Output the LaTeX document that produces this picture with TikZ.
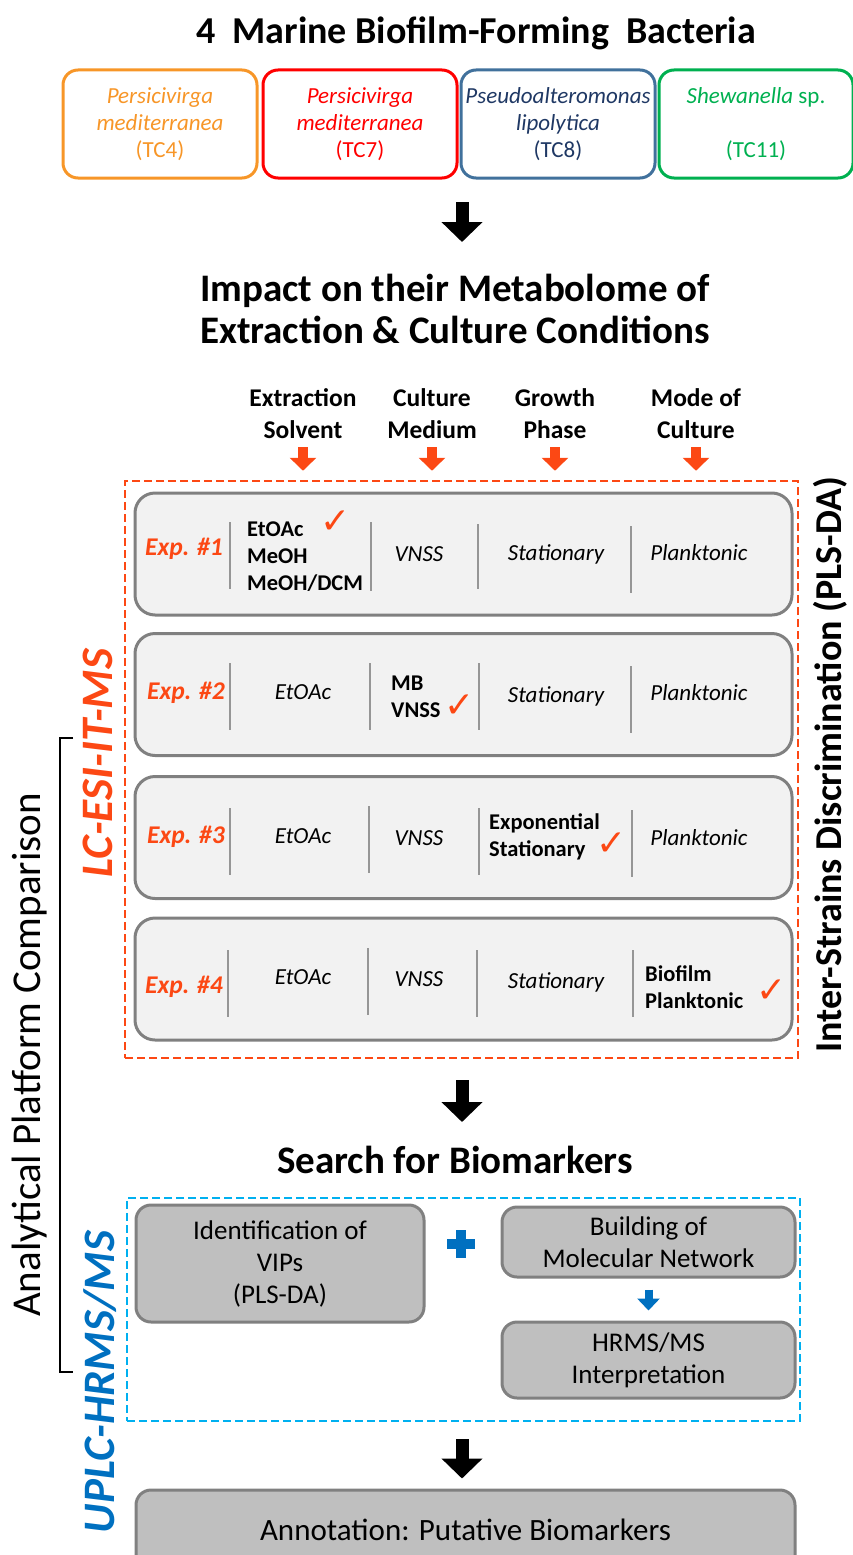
\documentclass[tikz,border=0pt]{standalone}
\usepackage{fontspec}
\setmainfont{Carlito}
\newfontfamily\checkfont{DejaVu Sans}
\usetikzlibrary{arrows.meta, positioning}
\definecolor{strainOrange}{RGB}{247,150,40}
\definecolor{strainRed}{RGB}{255,0,0}
\definecolor{strainBlueLine}{RGB}{65,113,156}
\definecolor{strainBlueText}{RGB}{31,56,100}
\definecolor{strainGreen}{RGB}{0,176,80}
\definecolor{lcOrange}{RGB}{252,72,20}
\definecolor{hrmsBlue}{RGB}{0,112,192}
\definecolor{hrmsCyan}{RGB}{0,176,240}
\definecolor{expFill}{RGB}{242,242,242}
\definecolor{boxFill}{RGB}{191,191,191}
\definecolor{boxLine}{RGB}{128,128,128}
\definecolor{sepLine}{RGB}{150,150,150}
\newcommand{\fsz}[2]{\fontsize{#1}{#2}\selectfont}
\tikzset{
  mainTitle/.style={font=\bfseries\fsz{38}{44}, inner sep=0pt, align=center},
  sectionTitle/.style={font=\bfseries\fsz{39}{42}, inner sep=0pt, align=center},
  factorHead/.style={font=\bfseries\fsz{25.5}{32}, inner sep=0pt, align=center},
  strainBox/.style={
    rounded corners=15pt,
    line width=3pt,
    minimum width=194pt,
    minimum height=108pt,
    align=center,
    inner sep=0pt,
    font=\fsz{23}{27}
  },
  expBox/.style={rounded corners=20pt, draw=boxLine, line width=3pt, fill=expFill,
    minimum width=657pt, minimum height=122pt},
  greyBox/.style={rounded corners=15pt, draw=boxLine, line width=3pt, fill=boxFill,
    align=center, inner sep=0pt, font=\fsz{27}{32}},
  expLabel/.style={font=\bfseries\itshape\fsz{25.5}{30}, text=lcOrange, inner sep=0pt},
  condText/.style={font=\itshape\fsz{23}{27}, inner sep=0pt},
  varList/.style={font=\bfseries\fsz{22.5}{27}, align=left, inner sep=0pt, anchor=west},
  checkMark/.style={font=\checkfont\fsz{36}{36}, text=lcOrange, inner sep=0pt},
  sideTitle/.style={font=\bfseries\fsz{38}{44}, inner sep=0pt, rotate=90},
  platformTitle/.style={font=\fsz{41}{48}, inner sep=0pt, rotate=90},
  methodTitle/.style={font=\bfseries\itshape\fsz{45}{52}, inner sep=0pt, rotate=90},
  colSep/.style={draw=sepLine, line width=1.5pt},
  frameBox/.style={dashed, line width=2.5pt, dash pattern=on 8pt off 4pt},
  bigArrow/.style={line width=13pt, -{Triangle[length=20pt, width=40pt]}},
  factorArrow/.style={line width=10pt, draw=lcOrange, -{Triangle[length=13pt, width=26pt]}},
  netArrow/.style={line width=8pt, draw=hrmsBlue, -{Triangle[length=12pt, width=22pt]}},
  bracketLine/.style={line width=2.5pt}
}

\begin{document}
\begin{tikzpicture}[x=1pt, y=-1pt]
  \useasboundingbox (0,0) rectangle (853,1555);

  \node[mainTitle] (title) at (476,33) {4\ \ Marine Biofilm-Forming\ \ Bacteria};

  \node[strainBox, draw=strainOrange, text=strainOrange] (tc4) at (160,124) {\textit{Persicivirga}\\\textit{mediterranea}\\(TC4)};
  \node[strainBox, draw=strainRed, text=strainRed] (tc7) at (360,124) {\textit{Persicivirga}\\\textit{mediterranea}\\(TC7)};
  \node[strainBox, draw=strainBlueLine, text=strainBlueText] (tc8) at (558,124) {\textit{Pseudoalteromonas}\\\textit{lipolytica}\\(TC8)};
  \node[strainBox, draw=strainGreen, text=strainGreen] (tc11) at (756,124) {\textit{Shewanella} sp.\\[27pt](TC11)};

  \coordinate (strainsOut) at (462,202);
  \coordinate (impactIn) at (462,242);
  \draw[bigArrow] (strainsOut) -- (impactIn);

  \node[sectionTitle] (impact) at (455,309) {Impact on their Metabolome of\\Extraction \& Culture Conditions};

  \node[factorHead] (solvent) at (303,414) {Extraction\\Solvent};
  \node[factorHead] (medium) at (432,414) {Culture\\Medium};
  \node[factorHead] (phase) at (555,414) {Growth\\Phase};
  \node[factorHead] (mode) at (696,414) {Mode of\\Culture};

  \node[frameBox, draw=lcOrange, minimum width=673pt, minimum height=577pt] (lcFrame) at (461.5,769.5) {};

  \draw[factorArrow] ([yshift=-33pt]solvent.center) -- ([yshift=9pt]solvent.center |- lcFrame.north);
  \draw[factorArrow] ([yshift=-33pt]medium.center) -- ([yshift=9pt]medium.center |- lcFrame.north);
  \draw[factorArrow] ([yshift=-33pt]phase.center) -- ([yshift=9pt]phase.center |- lcFrame.north);
  \draw[factorArrow] ([yshift=-33pt]mode.center) -- ([yshift=9pt]mode.center |- lcFrame.north);

  \node[expBox] (exp1) at (463.5,554) {};
  \node[expBox] (exp2) at (463.5,694.5) {};
  \node[expBox] (exp3) at (463.5,837.5) {};
  \node[expBox] (exp4) at (463.5,979) {};

  \node[expLabel] (exp1lab) at (184,549) {Exp. \#1};
  \draw[colSep] (230,522) -- (230,589);
  \node[varList] (exp1solv) at (247,557) {EtOAc\\MeOH\\MeOH/DCM};
  \node[checkMark] (exp1chk) at (336,522) {✓};
  \draw[colSep] (371,522) -- (371,591);
  \node[condText] (exp1med) at (419,554) {VNSS};
  \draw[colSep] (478,524) -- (478,589);
  \node[condText] (exp1phase) at (556,554) {Stationary};
  \draw[colSep] (631,526) -- (631,593);
  \node[condText] (exp1mode) at (699,553) {Planktonic};

  \node[expLabel] (exp2lab) at (186,693) {Exp. \#2};
  \draw[colSep] (230,663) -- (230,730);
  \node[condText] (exp2solv) at (303,692) {EtOAc};
  \draw[colSep] (370,663) -- (370,730);
  \node[varList] (exp2med) at (391,697) {MB\\VNSS};
  \node[checkMark] (exp2chk) at (460,706) {✓};
  \draw[colSep] (479,663) -- (479,730);
  \node[condText] (exp2phase) at (556,696) {Stationary};
  \draw[colSep] (631,666) -- (631,733);
  \node[condText] (exp2mode) at (699,693) {Planktonic};

  \node[expLabel] (exp3lab) at (186,837) {Exp. \#3};
  \draw[colSep] (230,808) -- (230,875);
  \node[condText] (exp3solv) at (303,836) {EtOAc};
  \draw[colSep] (369,806) -- (369,873);
  \node[condText] (exp3med) at (419,838) {VNSS};
  \draw[colSep] (479,808) -- (479,875);
  \node[varList] (exp3phase) at (489,837) {Exponential\\Stationary};
  \node[checkMark] (exp3chk) at (612,844) {✓};
  \draw[colSep] (632,810) -- (632,877);
  \node[condText] (exp3mode) at (699,838) {Planktonic};

  \node[expLabel] (exp4lab) at (184,987) {Exp. \#4};
  \draw[colSep] (228,950) -- (228,1017);
  \node[condText] (exp4solv) at (303,977) {EtOAc};
  \draw[colSep] (368,948) -- (368,1015);
  \node[condText] (exp4med) at (419,979) {VNSS};
  \draw[colSep] (477,950) -- (477,1017);
  \node[condText] (exp4phase) at (556,982) {Stationary};
  \draw[colSep] (633,950) -- (633,1017);
  \node[varList] (exp4mode) at (645,987) {Biofilm\\Planktonic};
  \node[checkMark] (exp4chk) at (772,991) {✓};

  \node[sideTitle] (discrim) at (830,765) {Inter-Strains Discrimination (PLS-DA)};
  \node[methodTitle, text=lcOrange] (lcms) at (98,763) {LC-ESI-IT-MS};
  \node[methodTitle, text=hrmsBlue] (hrms) at (100,1382) {UPLC-HRMS/MS};
  \node[platformTitle] (platform) at (30,1055) {Analytical Platform Comparison};
  \draw[bracketLine] (73,738) -- (60,738) -- (60,1372) -- (73,1372);

  \coordinate (lcOut) at (462,1080);
  \coordinate (searchIn) at (462,1122);
  \draw[bigArrow] (lcOut) -- (searchIn);

  \node[sectionTitle] (search) at (455,1160) {Search for Biomarkers};

  \node[frameBox, draw=hrmsCyan, minimum width=673pt, minimum height=223pt] (hrmsFrame) at (463.5,1309.5) {};
  \node[greyBox, minimum width=288pt, minimum height=117pt] (vips) at (280,1263.5) {Identification of\\VIPs\\(PLS-DA)};
  \node[greyBox, minimum width=293pt, minimum height=70pt] (network) at (648.5,1242) {Building of\\Molecular Network};
  \node[greyBox, minimum width=293pt, minimum height=76pt] (interp) at (648.5,1360) {HRMS/MS\\Interpretation};
  \draw[hrmsBlue, line width=10pt] (447,1244) -- (475,1244) (461,1230) -- (461,1258);
  \draw[netArrow] ([yshift=-11pt]network.south) -- ([yshift=10pt]interp.north);

  \node[greyBox, font=\fsz{31}{36}, minimum width=659pt, minimum height=80pt] (annot) at (465.5,1530) {Annotation: Putative Biomarkers};
  \draw[bigArrow] ([yshift=-17pt]hrmsFrame.south -| lcOut) -- ([yshift=10pt]annot.north -| lcOut);
\end{tikzpicture}
\end{document}
